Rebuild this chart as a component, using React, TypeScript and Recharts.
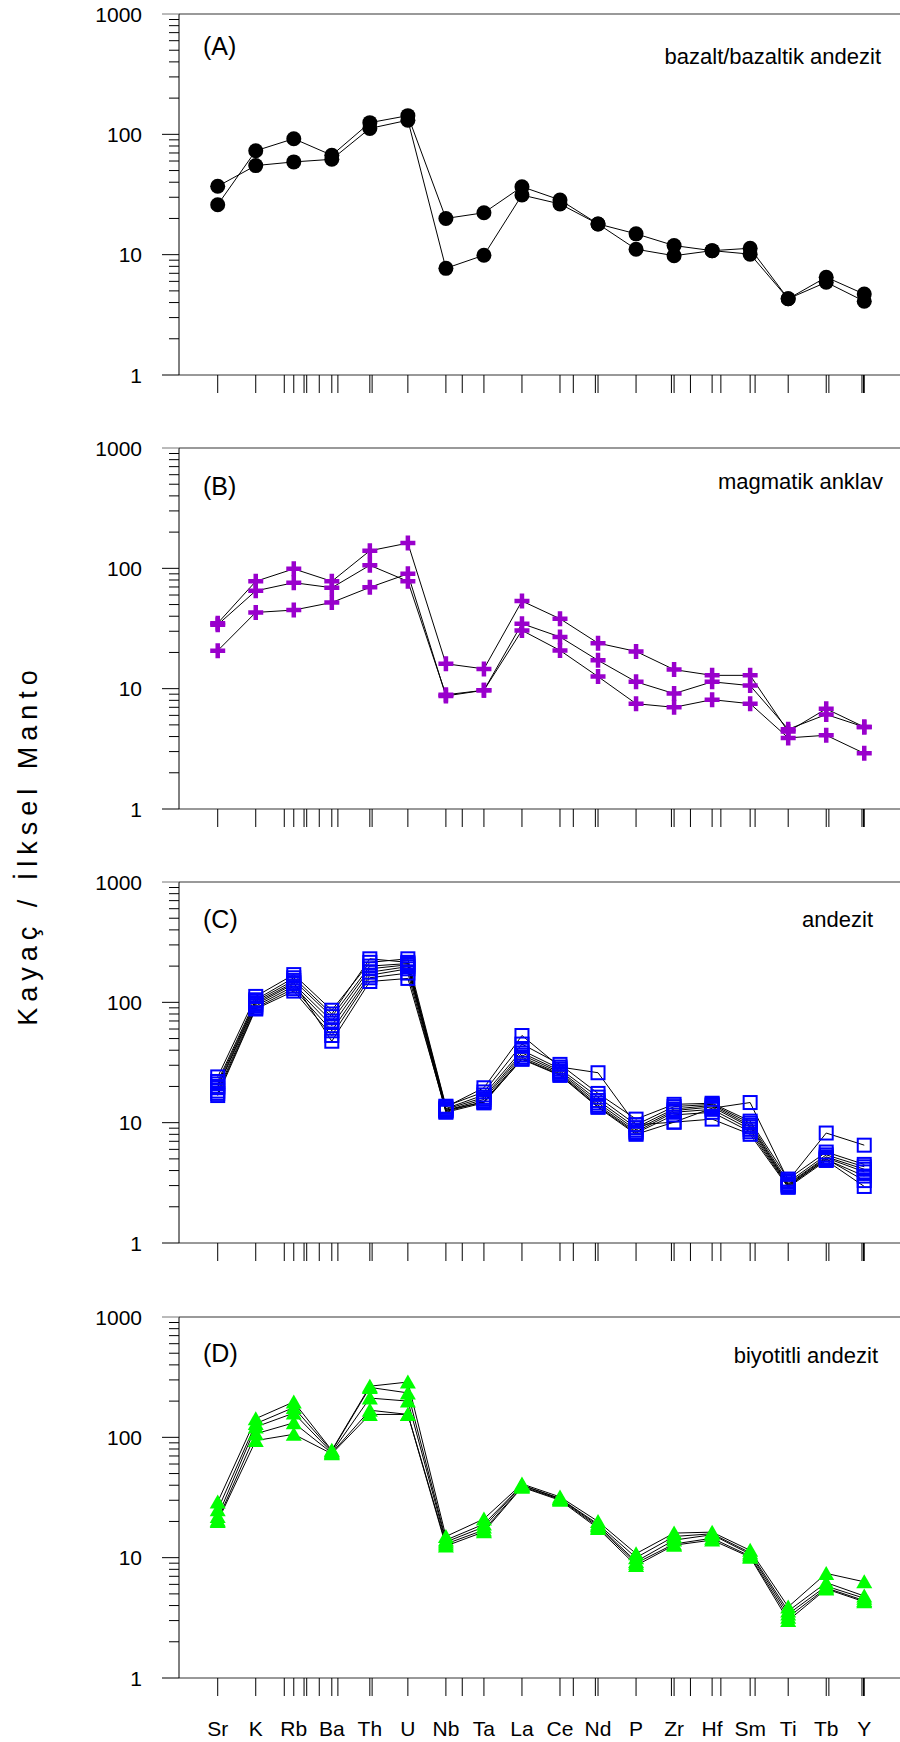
import React from 'react';
import { LineChart, Line, XAxis, YAxis, ReferenceLine } from 'recharts';

// element order on the x axis (spider diagram)
const elements = ['Sr', 'K', 'Rb', 'Ba', 'Th', 'U', 'Nb', 'Ta', 'La', 'Ce', 'Nd', 'P', 'Zr', 'Hf', 'Sm', 'Ti', 'Tb', 'Y'];
// unlabeled ticks between the element positions (in element-index units)
const extraTicks = [1.75, 2.27, 2.34, 2.67, 3.16, 4.06, 6.43, 9.35, 9.93, 11.93, 12.43, 13.23, 14.13, 16.07, 16.94, 16.98];
const majorY = [1, 10, 100, 1000];
const minorY = [2, 3, 4, 5, 6, 7, 8, 9, 20, 30, 40, 50, 60, 70, 80, 90, 200, 300, 400, 500, 600, 700, 800, 900];

// (A) bazalt / bazaltik andezit
const bazalt1 = [26, 73, 92, 67, 125, 143, 20, 22.3, 36.7, 28.5, 18, 14.9, 11.9, 10.8, 11.3, 4.3, 6.5, 4.7];
const bazalt2 = [37, 55, 59, 62, 112, 131, 7.7, 9.9, 31.3, 26.4, 18, 11.1, 9.8, 10.8, 10.1, 4.3, 5.9, 4.1];

// (B) magmatik anklav
const anklav1 = [35, 78, 99, 78, 140, 162, 16.1, 14.6, 53.5, 38.1, 23.9, 20.4, 14.4, 12.9, 12.9, 4.4, 6.8, 4.8];
const anklav2 = [34, 65, 76, 69, 106, 78, 8.9, 9.7, 34.7, 26.9, 17.2, 11.4, 9.1, 11.4, 10.6, 4.6, 6.1, 4.8];
const anklav3 = [20.7, 43, 45, 52, 69.5, 90, 8.7, 9.7, 30.5, 20.8, 12.6, 7.5, 7.0, 8.1, 7.5, 3.9, 4.1, 2.9];

// (C) andezit
const andezit1 = [22, 105, 160, 80, 230, 215, 13.5, 19.5, 53, 29, 26, 9.6, 10.1, 13.2, 14.7, 3.3, 8.2, 6.5];
const andezit2 = [24, 112, 170, 86, 215, 230, 13.7, 18, 45, 30.5, 17.5, 10.7, 14.2, 14.5, 10.3, 3.4, 5.7, 4.5];
const andezit3 = [21, 102, 152, 76, 200, 210, 13.1, 17, 40, 28, 16.3, 9.6, 13.6, 14.2, 9.9, 3.2, 5.4, 4.3];
const andezit4 = [19.5, 96, 142, 70, 190, 205, 12.9, 16.2, 38, 27, 15.3, 9.1, 13, 13.9, 9.5, 3.1, 5.2, 4.1];
const andezit5 = [18.3, 93, 136, 64, 178, 198, 12.6, 15.6, 36.5, 26.2, 14.6, 8.7, 12.6, 13.5, 9.2, 3.05, 5.1, 3.9];
const andezit6 = [17.5, 90, 130, 58, 168, 190, 12.4, 15, 35, 25.5, 14, 8.4, 12.2, 12.9, 8.8, 3.0, 4.95, 3.6];
const andezit7 = [16.8, 88, 124, 53, 160, 175, 12.2, 14.6, 34, 25, 13.6, 8.2, 11.6, 12.2, 8.4, 2.95, 5.0, 3.3];
const andezit8 = [20, 99, 146, 47.5, 149, 158, 12.7, 14.8, 33.6, 24.7, 13.4, 8.0, 10.1, 10.7, 8.0, 2.9, 4.85, 2.95];

// (D) biyotitli andezit
const biyotit1 = [29, 143, 197, 78, 266, 288, 15, 21, 41, 32, 20, 10.8, 16, 16.3, 11.5, 3.9, 7.4, 6.3];
const biyotit2 = [25, 130, 177, 77, 260, 234, 14, 19, 40, 31, 19, 10, 15, 15.8, 11, 3.6, 6.2, 4.8];
const biyotit3 = [22, 122, 159, 75, 212, 200, 13.5, 18, 40, 31, 18.5, 9.3, 14, 15.5, 10.7, 3.4, 5.8, 4.6];
const biyotit4 = [20.5, 107, 132, 74, 168, 155, 13, 17, 39, 30.5, 18, 9, 13, 14.5, 10.3, 3.2, 5.6, 4.4];
const biyotit5 = [20, 94, 106, 73, 155, 155, 12.5, 16.4, 38.5, 30, 17.5, 8.6, 12.7, 14, 10.1, 3.0, 5.5, 4.3];

const FONT = '"Liberation Sans", Arial, sans-serif';
const TOP_LINE = '#777';

const CircleDot = (p: any) => <circle key={`c-${p.index}`} cx={p.cx} cy={p.cy} r={7.5} fill="#000" />;
const PlusDot = (p: any) => (
    <path
        key={`p-${p.index}`}
        d={`M${p.cx - 7.5},${p.cy}H${p.cx + 7.5}M${p.cx},${p.cy - 7.5}V${p.cy + 7.5}`}
        stroke="#9900CC"
        strokeWidth={4.5}
        fill="none"
    />
);
const SquareDot = (p: any) => (
    <rect key={`s-${p.index}`} x={p.cx - 6.5} y={p.cy - 6.5} width={13} height={13} fill="none" stroke="#0000FF" strokeWidth={2} />
);
const TriangleDot = (p: any) => (
    <polygon
        key={`t-${p.index}`}
        points={`${p.cx},${p.cy - 7.5} ${p.cx + 8},${p.cy + 6.5} ${p.cx - 8},${p.cy + 6.5}`}
        fill="#00FF00"
    />
);

const panels = [
    { id: 'A', top: 14, series: [bazalt1, bazalt2], dot: CircleDot, name: 'bazalt/bazaltik andezit', tagY: 41, nameX: 881, nameY: 50 },
    { id: 'B', top: 448, series: [anklav1, anklav2, anklav3], dot: PlusDot, name: 'magmatik anklav', tagY: 47, nameX: 883, nameY: 41 },
    {
        id: 'C', top: 882,
        series: [andezit1, andezit2, andezit3, andezit4, andezit5, andezit6, andezit7, andezit8],
        dot: SquareDot, name: 'andezit', tagY: 46, nameX: 873, nameY: 45,
    },
    { id: 'D', top: 1317, series: [biyotit1, biyotit2, biyotit3, biyotit4, biyotit5], dot: TriangleDot, name: 'biyotitli andezit', tagY: 45, nameX: 878, nameY: 46 },
];

const PLOT_H = 361;
const xTicks = [...elements.map((_, i) => i), ...extraTicks].sort((a, b) => a - b);

const LogTick = (props: any) => {
    const { x, y, payload } = props;
    const v = payload.value;
    const major = majorY.includes(v);
    const len = major ? 17 : 10;
    return (
        <g>
            <line x1={x - len} x2={x} y1={y} y2={y} stroke={v === 1000 ? TOP_LINE : '#000'} strokeWidth={1} />
            {major && (
                <text x={x - 37} y={y} dy={7.5} textAnchor="end" fontSize={21} fill="#000" fontFamily={FONT}>
                    {v}
                </text>
            )}
        </g>
    );
};

const makeElemTick = (showLabels: boolean) => (props: any) => {
    const { x, y, payload } = props;
    const v = payload.value;
    return (
        <g>
            <line x1={x} x2={x} y1={y} y2={y + 18} stroke="#000" strokeWidth={1} />
            {showLabels && Number.isInteger(v) && (
                <text x={x} y={y + 58} textAnchor="middle" fontSize={21} fill="#000" fontFamily={FONT}>
                    {elements[v]}
                </text>
            )}
        </g>
    );
};

const Panel = ({ panel, last }: { panel: any; last: boolean }) => {
    const rows = elements.map((el, i) => {
        const row: { [key: string]: any } = { x: i, name: el };
        panel.series.forEach((s: number[], j: number) => {
            row[`s${j}`] = s[i];
        });
        return row;
    });
    const xh = last ? 64 : 40;
    return (
        <div style={{ position: 'absolute', left: 0, top: panel.top - 10 }}>
            <LineChart width={900} height={10 + PLOT_H + xh} data={rows} margin={{ top: 10, right: 0, bottom: 0, left: 0 }}>
                <XAxis
                    type="number"
                    dataKey="x"
                    domain={[-1.018, 17.94]}
                    allowDataOverflow
                    ticks={xTicks}
                    interval={0}
                    tickSize={0}
                    tickMargin={0}
                    tickLine={false}
                    axisLine={{ stroke: '#333', strokeWidth: 1 }}
                    tick={makeElemTick(last)}
                    height={xh}
                />
                <YAxis
                    type="number"
                    scale="log"
                    domain={[1, 1000]}
                    allowDataOverflow
                    ticks={[...majorY, ...minorY].sort((a, b) => a - b)}
                    interval={0}
                    tickSize={0}
                    tickMargin={0}
                    tickLine={false}
                    axisLine={{ stroke: '#000', strokeWidth: 1 }}
                    tick={LogTick}
                    width={179}
                />
                <ReferenceLine y={1000} stroke={TOP_LINE} strokeWidth={1.3} />
                {panel.series.map((_: number[], j: number) => (
                    <Line
                        key={j}
                        type="linear"
                        dataKey={`s${j}`}
                        stroke="#000"
                        strokeWidth={1}
                        dot={panel.dot}
                        activeDot={false}
                        isAnimationActive={false}
                    />
                ))}
            </LineChart>
        </div>
    );
};

export default function App() {
    return (
        <div style={{ position: 'absolute', left: 0, top: 0, width: 900, height: 1742, background: '#fff', fontFamily: FONT }}>
            {panels.map((p, i) => (
                <Panel key={p.id} panel={p} last={i === panels.length - 1} />
            ))}
            <svg width={900} height={1742} style={{ position: 'absolute', left: 0, top: 0, pointerEvents: 'none' }}>
                {panels.map((p) => (
                    <g key={p.id}>
                        <text x={203} y={p.top + p.tagY} fontSize={25} fill="#000" fontFamily={FONT}>
                            ({p.id})
                        </text>
                        <text x={p.nameX} y={p.top + p.nameY} textAnchor="end" fontSize={22} fill="#000" fontFamily={FONT}>
                            {p.name}
                        </text>
                    </g>
                ))}
                <text
                    transform="translate(37,845) rotate(-90)"
                    textAnchor="middle"
                    fontSize={27}
                    letterSpacing={6}
                    fill="#000"
                    fontFamily={FONT}
                >
                    Kayaç / İlksel Manto
                </text>
            </svg>
        </div>
    );
}
